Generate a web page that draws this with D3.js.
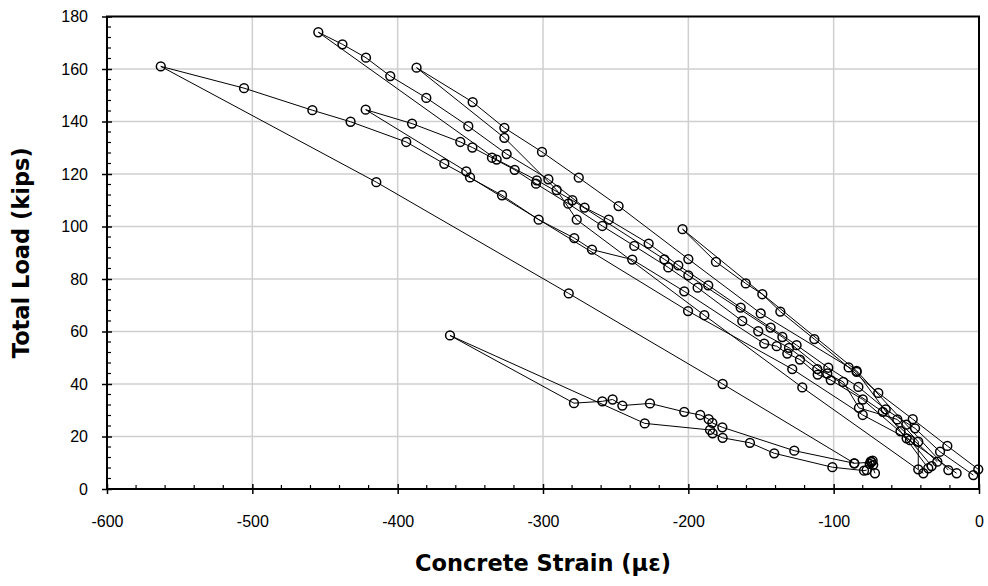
<!DOCTYPE html>
<html>
<head>
<meta charset="utf-8">
<script src="https://cdn.jsdelivr.net/npm/d3@7"></script>
<style>
  body { margin: 0; background: #fff; }
  svg { display: block; }
  text { font-family: "Liberation Sans", Arial, sans-serif; }
  .axis-title { font-family: "DejaVu Sans", Verdana, sans-serif; font-weight: bold; }
</style>
</head>
<body>
<svg id="chart" width="988" height="586"></svg>
<script>
// Load cycles: [concrete strain (microstrain), total load (kips)]
const cycle1 = [[-32.6,8.75],[-47.5,18.6],[-80.0,34.1],[-102.0,41.5],[-111.0,43.6],[-123.2,49.3],[-131.9,51.6],[-139.2,54.4],[-147.8,55.4],[-202.8,75.3],[-238.6,87.4],[-266.3,91.2],[-278.5,95.6],[-303.0,102.6],[-328.2,111.9],[-367.9,123.9],[-394.1,132.2],[-432.4,139.9],[-458.7,144.3],[-505.7,152.7],[-563.0,161.0],[-414.7,116.9],[-282.3,74.5],[-176.4,40.0],[-85.8,9.8]];
const cycle2 = [[-15.4,6.0],[-49.8,19.3],[-80.0,28.2],[-128.5,45.7],[-200.2,67.8],[-350.2,118.7],[-352.8,121.0],[-422.0,144.5],[-390.1,139.2],[-356.9,132.2],[-348.6,130.1],[-335.1,126.2],[-319.5,121.6],[-304.8,116.3],[-282.6,108.7],[-259.2,100.2],[-237.2,92.6],[-213.8,84.4],[-193.6,76.7],[-162.9,64.0],[-151.9,60.1],[-130.7,53.8],[-111.3,45.7],[-93.4,40.8],[-82.6,30.9],[-56.2,26.5],[-41.8,18.0],[-41.8,7.5]];
const cycle3 = [[-3.9,5.3],[-26.8,14.2],[-44.0,23.1],[-64.2,30.3],[-83.0,38.9],[-103.7,46.2],[-125.5,54.8],[-143.4,61.5],[-164.0,69.1],[-186.3,77.6],[-206.9,85.2],[-227.3,93.5],[-254.8,102.6],[-271.4,107.2],[-296.3,118.0],[-325.0,127.6],[-351.4,138.2],[-380.3,149.0],[-405.1,157.3],[-421.8,164.3],[-438.0,169.4],[-454.6,174.0],[-331.9,125.5],[-304.3,117.6],[-279.8,110.0],[-216.5,87.5],[-200.0,81.4],[-135.3,57.9],[-104.4,44.0],[-66.2,29.4],[-28.7,10.4]];
const cycle4 = [[-0.5,7.5],[-21.8,16.4],[-45.6,26.6],[-69.3,36.6],[-89.7,46.3],[-113.3,57.1],[-136.7,67.6],[-149.1,74.2],[-160.5,78.3],[-181.0,86.5],[-204.0,99.0],[-84.2,45.0],[-50.0,24.5],[-21.1,7.2]];
const cycle5 = [[-34.9,7.9],[-54.0,22.0],[-84.2,44.6],[-150.2,66.9],[-200.0,87.6],[-248.0,107.8],[-275.4,118.6],[-300.7,128.4],[-326.6,137.6],[-348.4,147.4],[-387.0,160.5],[-326.6,133.8],[-290.6,113.9],[-276.8,102.6],[-189.0,66.2],[-121.6,38.7],[-38.3,6.0]];
const cycle6 = [[-77.3,7.2],[-79.1,7.0],[-100.9,8.3],[-140.9,13.6],[-157.6,17.6],[-176.4,19.5],[-183.3,21.2],[-185.1,22.5],[-230.0,25.0],[-364.0,58.5],[-278.7,32.7],[-259.2,33.4],[-252.1,34.1],[-245.4,31.8],[-226.4,32.6],[-202.8,29.4],[-191.8,28.2],[-186.0,26.6],[-183.5,25.2],[-176.6,23.5],[-127.1,14.6],[-85.8,9.8],[-74.0,10.2],[-73.2,10.8],[-75.2,9.6],[-72.8,9.2],[-74.5,10.5],[-71.6,6.0]];

const cycles = [cycle1, cycle2, cycle3, cycle4, cycle5, cycle6];

const strainTicks = [-600, -500, -400, -300, -200, -100, 0];
const loadTicks = [0, 20, 40, 60, 80, 100, 120, 140, 160, 180];
const strainMinor = d3.range(-600, 1, 20);
const loadMinor = d3.range(0, 181, 4);

const svg = d3.select("#chart");
const plotL = 107, plotR = 979, plotT = 16.5, plotB = 489;
const x = d3.scaleLinear().domain([-600, 0]).range([plotL, plotR]);
const y = d3.scaleLinear().domain([0, 180]).range([plotB, plotT]);

// gridlines
const grid = svg.append("g").attr("stroke", "#cfcfcf").attr("stroke-width", 1.5);
grid.selectAll(".gx").data(strainTicks.slice(1, -1)).join("line")
  .attr("x1", d => x(d)).attr("x2", d => x(d)).attr("y1", plotT).attr("y2", plotB);
grid.selectAll(".gy").data(loadTicks.slice(1, -1)).join("line")
  .attr("x1", plotL).attr("x2", plotR).attr("y1", d => y(d)).attr("y2", d => y(d));

// data lines and markers
const line = d3.line().x(d => x(d[0])).y(d => y(d[1]));
const plot = svg.append("g");
plot.selectAll("path.cyc").data(cycles).join("path")
  .attr("class", "cyc")
  .attr("d", line)
  .attr("fill", "none")
  .attr("stroke", "#000")
  .attr("stroke-width", 1);
plot.selectAll("g.pts").data(cycles).join("g").attr("class", "pts")
  .selectAll("circle").data(d => d).join("circle")
  .attr("cx", d => x(d[0])).attr("cy", d => y(d[1]))
  .attr("r", 4.4)
  .attr("fill", "none")
  .attr("stroke", "#000")
  .attr("stroke-width", 1.5);

// frame
svg.append("rect").attr("x", plotL).attr("y", plotT)
  .attr("width", plotR - plotL).attr("height", plotB - plotT)
  .attr("fill", "none").attr("stroke", "#000").attr("stroke-width", 2);

// x axis (plain hyphen for negative numbers)
const fmt = d => String(d);
const xAxis = d3.axisBottom(x).tickValues(strainTicks).tickSize(5).tickPadding(22)
  .tickFormat(fmt);
const gx = svg.append("g").attr("transform", `translate(0,${plotB})`).call(xAxis);
gx.select(".domain").remove();
gx.selectAll(".tick line").attr("y1", -5).attr("stroke-width", 1.5);
gx.selectAll(".tick text").attr("font-size", 16).attr("fill", "#000")
  .style("font-family", "'Liberation Sans', Arial, sans-serif");
svg.append("g").selectAll("line").data(strainMinor.filter(d => !strainTicks.includes(d))).join("line")
  .attr("x1", d => x(d)).attr("x2", d => x(d)).attr("y1", plotB).attr("y2", plotB - 4)
  .attr("stroke", "#000").attr("stroke-width", 1.2);

// y axis
const yAxis = d3.axisLeft(y).tickValues(loadTicks).tickSize(5).tickPadding(14)
  .tickFormat(fmt);
const gy = svg.append("g").attr("transform", `translate(${plotL},0)`).call(yAxis);
gy.select(".domain").remove();
gy.selectAll(".tick line").attr("x1", 5).attr("stroke-width", 1.5);
gy.selectAll(".tick text").attr("font-size", 16).attr("fill", "#000")
  .style("font-family", "'Liberation Sans', Arial, sans-serif");
svg.append("g").selectAll("line").data(loadMinor.filter(d => !loadTicks.includes(d))).join("line")
  .attr("x1", plotL).attr("x2", plotL + 4).attr("y1", d => y(d)).attr("y2", d => y(d))
  .attr("stroke", "#000").attr("stroke-width", 1.2);

// axis titles
svg.append("text").attr("class", "axis-title").attr("x", 543).attr("y", 571)
  .attr("text-anchor", "middle").attr("font-size", 22.5).text("Concrete Strain (με)");
svg.append("text").attr("class", "axis-title")
  .attr("transform", `translate(29,${(plotT + plotB) / 2}) rotate(-90)`)
  .attr("text-anchor", "middle").attr("font-size", 22.5).text("Total Load (kips)");
</script>
</body>
</html>
